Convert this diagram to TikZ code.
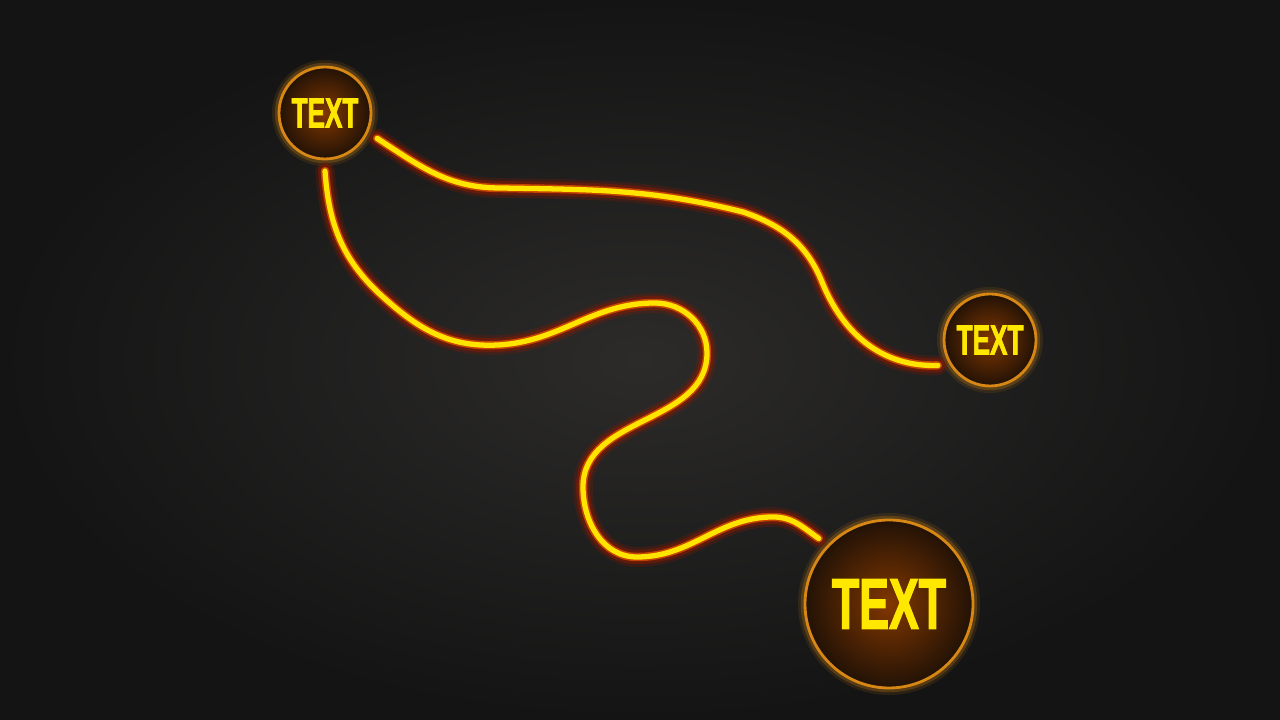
\documentclass[tikz,border=0pt]{standalone}
\usepackage{fontspec}
\usetikzlibrary{positioning}
\newfontfamily\hubfont{Liberation Sans}[FakeStretch=0.62, FakeBold=1.6]

\definecolor{bgmid}{RGB}{44,43,42}
\definecolor{bgedge}{RGB}{20,20,20}
\definecolor{wireyellow}{RGB}{255,228,0}
\definecolor{wireorange}{RGB}{215,75,0}
\definecolor{wirered}{RGB}{140,25,0}
\definecolor{ringorange}{RGB}{215,135,20}
\definecolor{hubglow}{RGB}{130,55,0}
\definecolor{hubdark}{RGB}{34,18,6}
\definecolor{textyellow}{RGB}{255,232,0}

\begin{document}
\begin{tikzpicture}
  % Styles
  \tikzset{
    hub/.style = {circle, draw=ringorange, line width=0.8pt, inner sep=0pt, outer sep=1.2mm,
                  text=textyellow, inner color=hubglow, outer color=hubdark,
                  preaction={draw=ringorange, line width=4pt, opacity=0.12},
                  preaction={draw=ringorange, line width=2.4pt, opacity=0.25}},
    smallhub/.style = {hub, minimum size=9.2mm, font=\hubfont\bfseries\fontsize{12}{12}\selectfont},
    bighub/.style = {hub, minimum size=16.8mm, font=\hubfont\bfseries\fontsize{20.5}{20.5}\selectfont},
    wire/.style = {draw=wireyellow, line width=1.5pt, line cap=round,
                   preaction={draw=wirered, line width=5.6pt, opacity=0.25, line cap=round},
                   preaction={draw=wirered, line width=4pt, opacity=0.5, line cap=round},
                   preaction={draw=wireorange, line width=2.4pt, opacity=0.85, line cap=round}}
  }

  % Background
  \shade[inner color=bgmid, outer color=bgedge] (0,0) rectangle (12.8,7.2);
  \useasboundingbox (0,0) rectangle (12.8,7.2);

  % Hubs
  \node[smallhub] (TopHub) at (3.25,6.07) {TEXT};
  \node[smallhub] (RightHub) at (9.90,3.80) {TEXT};
  \node[bighub] (BigHub) at (8.89,1.16) {TEXT};

  % Bends of the upper wire
  \coordinate (upA) at (5.00,5.32);
  \coordinate (upB) at (7.43,5.08);
  \coordinate (upC) at (8.22,4.38);

  % Bends of the lower wire
  \coordinate (lowA) at (3.83,4.23);
  \coordinate (lowB) at (4.98,3.75);
  \coordinate (lowC) at (6.55,4.17);
  \coordinate (lowD) at (7.07,3.67);
  \coordinate (lowE) at (5.83,2.33);
  \coordinate (lowF) at (6.37,1.63);
  \coordinate (lowG) at (7.73,2.03);

  % Wires
  \draw[wire] (TopHub.-26) to[out=-33,in=180] (upA) to[out=-1,in=166] (upB)
    to[out=-19,in=112] (upC) to[out=-68,in=182] (RightHub.206);
  \draw[wire] (TopHub.-90) to[out=-86,in=138] (lowA) to[out=-42,in=183] (lowB)
    to[out=3,in=180] (lowC) to[out=0,in=90] (lowD) to[out=-90,in=90] (lowE)
    to[out=-90,in=180] (lowF) to[out=0,in=180] (lowG) to[out=0,in=145] (BigHub.137);

\end{tikzpicture}
\end{document}
